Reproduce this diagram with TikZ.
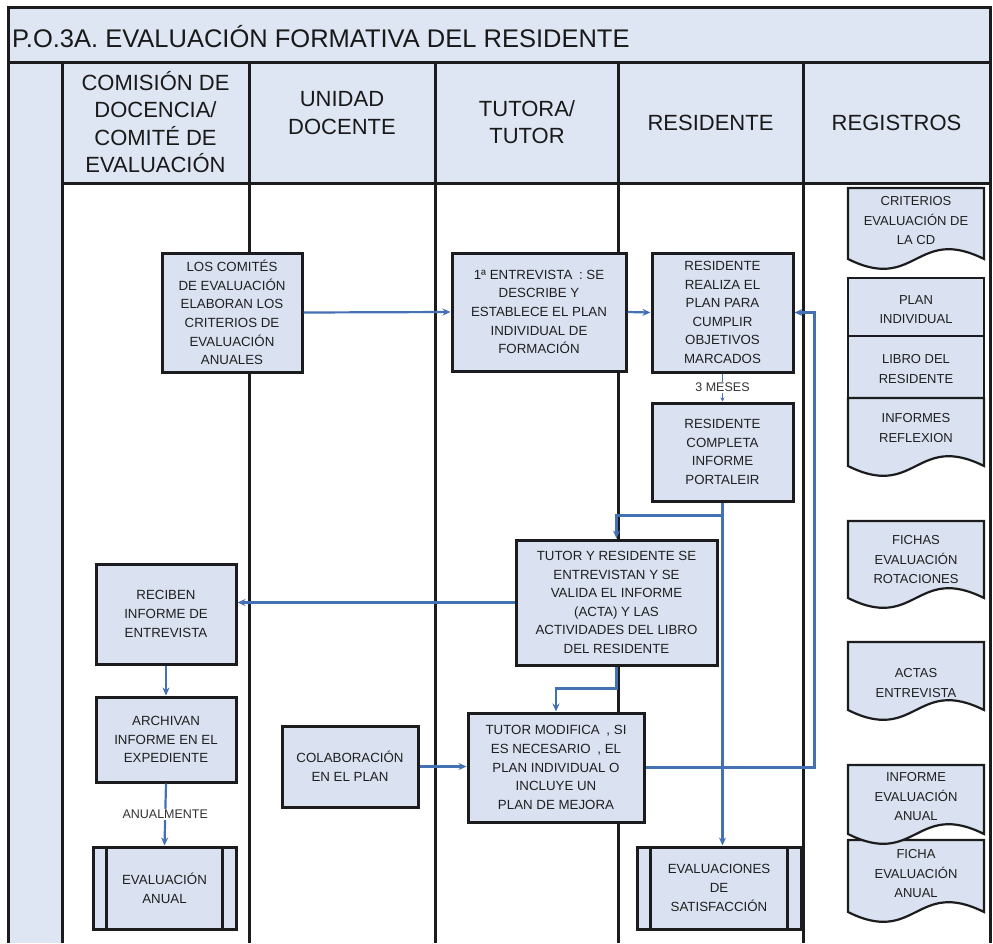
\documentclass[tikz,border=0pt]{standalone}
\usepackage{fontspec}
\setmainfont{Liberation Sans}
\usetikzlibrary{arrows.meta}

\definecolor{paneblue}{RGB}{222,230,243}
\definecolor{boxblue}{RGB}{218,226,241}
\definecolor{flowblue}{RGB}{68,112,180}
\definecolor{rulegray}{RGB}{28,28,30}

\newcommand\fsz[2]{\fontsize{#1}{#2}\selectfont}

% wavy-bottom document symbol: left x, top y, right x, bottom y
\newcommand\docshape[4]{%
  \filldraw[docline] (#1,#2) -- (#3,#2) -- (#3,#4)
    .. controls ({(#1+#3)/2},{#4-34}) and ({(#1+#3)/2},{#4+34}) .. (#1,#4) -- cycle;}

\begin{document}
\begin{tikzpicture}[x=1pt,y=-1pt,
  lane/.style={draw=rulegray, line width=3pt},
  stepbox/.style={draw=rulegray, line width=3pt, fill=boxblue, align=center,
    inner sep=2pt, text=black!88, font=\fsz{13.3}{18.6}},
  sz/.style 2 args={minimum width=#1pt, minimum height=#2pt},
  flow/.style={draw=flowblue, line width=2.2pt, -{Stealth[length=8pt,width=7pt]}},
  flowlabel/.style={fill=white, inner sep=1.5pt, text=black!80, font=\fsz{12.5}{14}},
  docline/.style={draw=rulegray, line width=2.2pt, fill=boxblue},
  doctext/.style={align=center, inner sep=0pt, text=black!88, font=\fsz{13}{19.5}},
  head/.style={align=center, inner sep=0pt, text=black!90, font=\fsz{22}{27.5}},
]
\useasboundingbox (0,0) rectangle (993,943);

% bands and lanes
\fill[paneblue] (8,7) rectangle (990,62);
\fill[paneblue] (62,62) rectangle (990,183);
\fill[paneblue] (8,62) rectangle (62,943);
\draw[lane] (8,943) -- (8,7) -- (990,7) -- (990,943);
\draw[lane] (8,62) -- (990,62);
\draw[lane] (62,183) -- (990,183);
\foreach \lx in {62,249,435,618,803}
  \draw[lane] (\lx,62) -- (\lx,943);

% title and lane headings
\node[anchor=base west, inner sep=0pt, text=black!90, font=\fsz{25.5}{30}] (title) at (12,47)
  {P.O.3A. EVALUACIÓN FORMATIVA DEL RESIDENTE};
\node[head] (hcom) at (155.5,122) {COMISIÓN DE\\DOCENCIA/\\COMITÉ DE\\EVALUACIÓN};
\node[head] (hud)  at (342,113)   {UNIDAD\\DOCENTE};
\node[head] (htut) at (527,122)   {TUTORA/\\TUTOR};
\node[head] (hres) at (710.5,123) {RESIDENTE};
\node[head] (hreg) at (896.5,123) {REGISTROS};

% process steps
\node[stepbox, sz={140}{119}] (b1) at (232,312.5)
  {LOS COMITÉS\\DE EVALUACIÓN\\ELABORAN LOS\\CRITERIOS DE\\EVALUACIÓN\\ANUALES};
\node[stepbox, sz={174}{118}] (b2) at (539,312)
  {1ª ENTREVISTA\enspace: SE\\DESCRIBE Y\\ESTABLECE EL PLAN\\INDIVIDUAL DE\\FORMACIÓN};
\node[stepbox, sz={141}{119}] (b3) at (722.5,312.5)
  {RESIDENTE\\REALIZA EL\\PLAN PARA\\CUMPLIR\\OBJETIVOS\\MARCADOS};
\node[stepbox, sz={141}{98}] (b4) at (722.5,452)
  {RESIDENTE\\COMPLETA\\INFORME\\PORTALEIR};
\node[stepbox, sz={201}{125}] (b6) at (616.5,602.5)
  {TUTOR Y RESIDENTE SE\\ENTREVISTAN Y SE\\VALIDA EL INFORME\\(ACTA) Y LAS\\ACTIVIDADES DEL LIBRO\\DEL RESIDENTE};
\node[stepbox, sz={140}{100}] (rec) at (166,614)
  {RECIBEN\\INFORME DE\\ENTREVISTA};
\node[stepbox, sz={140}{85}] (arch) at (166,739.5)
  {ARCHIVAN\\INFORME EN EL\\EXPEDIENTE};
\node[stepbox, sz={143}{82}] (ea) at (164.5,888)
  {EVALUACIÓN\\ANUAL};
\draw[rulegray, line width=2.8pt] ([xshift=15pt]ea.north west) -- ([xshift=15pt]ea.south west)
  ([xshift=-15pt]ea.north east) -- ([xshift=-15pt]ea.south east);
\node[stepbox, sz={136}{81}] (colab) at (350,766.5)
  {COLABORACIÓN\\EN EL PLAN};
\node[stepbox, sz={176}{109}] (b5) at (556,767.5)
  {TUTOR MODIFICA\enspace, SI\\ES NECESARIO\enspace, EL\\PLAN INDIVIDUAL O\\INCLUYE UN\\PLAN DE MEJORA};
\node[stepbox, sz={164}{82}] (es) at (719,888)
  {EVALUACIONES\\DE\\SATISFACCIÓN};
\draw[rulegray, line width=2.8pt] ([xshift=15pt]es.north west) -- ([xshift=15pt]es.south west)
  ([xshift=-15pt]es.north east) -- ([xshift=-15pt]es.south east);

% records column
\docshape{848}{188}{984}{259}
\node[doctext] (rcrit) at (916,221) {CRITERIOS\\EVALUACIÓN DE\\LA CD};
\filldraw[docline] (848,278) rectangle (984,336);
\node[doctext] (rplan) at (916,309.5) {PLAN\\INDIVIDUAL};
\filldraw[docline] (848,336) rectangle (984,398);
\node[doctext] (rlibro) at (916,369) {LIBRO DEL\\RESIDENTE};
\docshape{848}{398}{984}{466}
\node[doctext] (rinf) at (916,428) {INFORMES\\REFLEXION};
\docshape{848}{521}{984}{598}
\node[doctext] (rfichas) at (916,560) {FICHAS\\EVALUACIÓN\\ROTACIONES};
\docshape{848}{642}{984}{710}
\node[doctext] (ractas) at (916,683) {ACTAS\\ENTREVISTA};
\docshape{848}{840}{984}{912}
\node[doctext] (rficha) at (916,874) {FICHA\\EVALUACIÓN\\ANUAL};
\docshape{848}{765}{984}{834}
\node[doctext] (rinfanual) at (916,797) {INFORME\\EVALUACIÓN\\ANUAL};

% connectors
\draw[flow] (b1.east) -- (b2.west);
\draw[flow] (b2.east) -- (b3.west);
\draw[flow, -{Stealth[length=4pt,width=4pt]}, line width=1.4pt] (b3.south) -- node[flowlabel] {3 MESES} (b4.north);
\draw[flow] (b4.south) -- ++(0,13) -| (b6.north);
\draw[flow] (b4.south) -- (b4.south |- es.north);
\draw[flow] (b6.west) -- (b6.west -| rec.east);
\draw[flow] (rec.south) -- (arch.north);
\draw[flow] (arch.south) -- node[flowlabel] {ANUALMENTE} (ea.north);
\draw[flow] (b6.south) -- ++(0,22) -| (b5.north);
\draw[flow] (colab.east) -- (colab.east -| b5.west);
\draw[flow] (b5.east) -- ++(169,0) |- (b3.east);
\end{tikzpicture}
\end{document}
